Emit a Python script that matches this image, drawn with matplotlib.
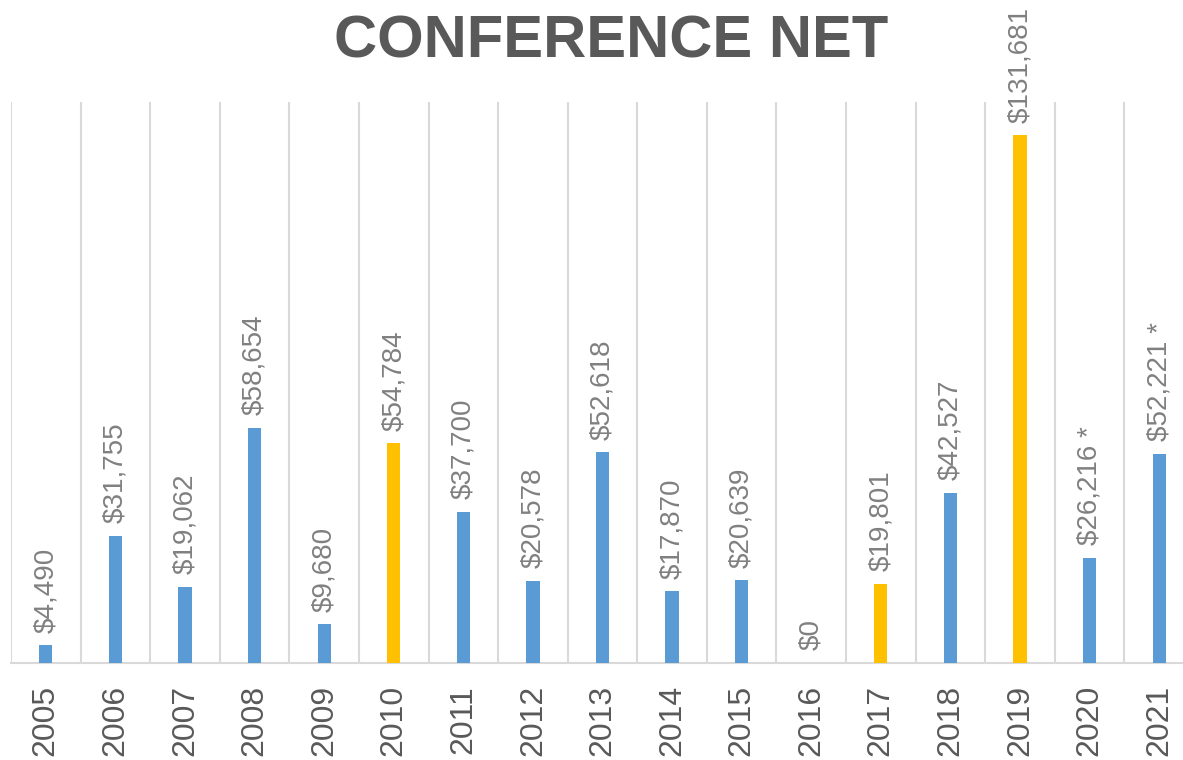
import matplotlib.pyplot as plt
import numpy as np

years = ["2005", "2006", "2007", "2008", "2009", "2010", "2011", "2012", "2013",
         "2014", "2015", "2016", "2017", "2018", "2019", "2020", "2021"]
net = [4490, 31755, 19062, 58654, 9680, 54784, 37700, 20578, 52618,
       17870, 20639, 0, 19801, 42527, 131681, 26216, 52221]
# years drawn in gold, the rest blue
highlight = ["2010", "2017", "2019"]
# estimated figures carry an asterisk
estimated = ["2020", "2021"]

blue = "#5B9BD5"
gold = "#FFC000"
grid_col = "#D9D9D9"

plt.rcParams['font.family'] = ['Liberation Sans', 'DejaVu Sans']

fig = plt.figure(figsize=(11.83, 7.6), dpi=100)
ax = fig.add_axes([11 / 1183, 97 / 760, 1183 / 1183, 561 / 760])

x = np.arange(len(years))
colors = [gold if y in highlight else blue for y in years]
bars = ax.bar(x, net, width=0.19, color=colors, zorder=3)

for xi, v, y in zip(x, net, years):
    label = f"${v:,}" + (" *" if y in estimated else "")
    ax.annotate(label, (xi, v), xytext=(0, 9), textcoords="offset points",
                rotation=90, ha="center", va="bottom", fontsize=20, color="#808080")

ax.set_xlim(-0.5, len(years) - 0.5)
ax.set_ylim(0, 140000)
ax.set_yticks([])
ax.set_xticks(x)
ax.set_xticklabels(years, rotation=90, fontsize=23, color="#595959")
ax.tick_params(axis="x", length=0, pad=16)

ax.set_xticks(np.arange(-0.5, len(years)), minor=True)
ax.tick_params(axis="x", which="minor", length=0)
ax.grid(True, which="minor", axis="x", color=grid_col, linewidth=1.5, zorder=0)

for s in ["top", "right", "left"]:
    ax.spines[s].set_visible(False)
ax.spines["bottom"].set_color(grid_col)
ax.spines["bottom"].set_linewidth(1.5)

fig.text(611 / 1183, 1 - 57 / 760, "CONFERENCE NET", ha="center", va="baseline",
         fontsize=43, fontweight="bold", color="#595959")

fig.savefig("out.png", dpi=100)
